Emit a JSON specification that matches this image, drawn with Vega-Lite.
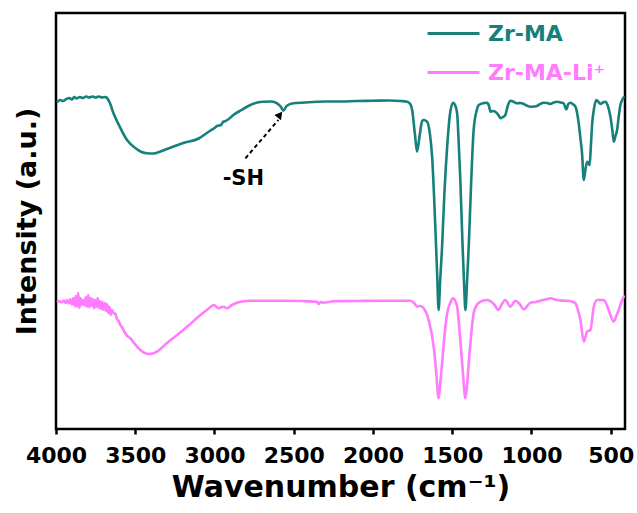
{
  "$schema": "https://vega.github.io/schema/vega-lite/v6.json",
  "width": 569,
  "height": 416,
  "autosize": "none",
  "padding": {"left": 56, "top": 13, "right": 12, "bottom": 84},
  "config": {
    "font": "DejaVu Sans",
    "view": {"stroke": "#000000", "strokeWidth": 2.5},
    "axis": {"grid": false}
  },
  "datasets": {
    "spectra": [
      {"wn": 3994, "intensity": 326.7, "sample": "Zr-MA"},
      {"wn": 3975, "intensity": 329, "sample": "Zr-MA"},
      {"wn": 3955, "intensity": 328, "sample": "Zr-MA"},
      {"wn": 3935, "intensity": 330, "sample": "Zr-MA"},
      {"wn": 3915, "intensity": 331, "sample": "Zr-MA"},
      {"wn": 3900, "intensity": 329.5, "sample": "Zr-MA"},
      {"wn": 3885, "intensity": 332, "sample": "Zr-MA"},
      {"wn": 3870, "intensity": 330.5, "sample": "Zr-MA"},
      {"wn": 3850, "intensity": 332, "sample": "Zr-MA"},
      {"wn": 3830, "intensity": 331, "sample": "Zr-MA"},
      {"wn": 3810, "intensity": 332.5, "sample": "Zr-MA"},
      {"wn": 3790, "intensity": 331.5, "sample": "Zr-MA"},
      {"wn": 3770, "intensity": 332.5, "sample": "Zr-MA"},
      {"wn": 3750, "intensity": 331.5, "sample": "Zr-MA"},
      {"wn": 3730, "intensity": 332.5, "sample": "Zr-MA"},
      {"wn": 3710, "intensity": 331.5, "sample": "Zr-MA"},
      {"wn": 3690, "intensity": 332, "sample": "Zr-MA"},
      {"wn": 3678, "intensity": 331, "sample": "Zr-MA"},
      {"wn": 3660, "intensity": 326, "sample": "Zr-MA"},
      {"wn": 3638, "intensity": 316, "sample": "Zr-MA"},
      {"wn": 3600, "intensity": 303, "sample": "Zr-MA"},
      {"wn": 3552, "intensity": 289, "sample": "Zr-MA"},
      {"wn": 3500, "intensity": 281, "sample": "Zr-MA"},
      {"wn": 3460, "intensity": 277, "sample": "Zr-MA"},
      {"wn": 3426, "intensity": 275.7, "sample": "Zr-MA"},
      {"wn": 3390, "intensity": 275.5, "sample": "Zr-MA"},
      {"wn": 3363, "intensity": 276.3, "sample": "Zr-MA"},
      {"wn": 3300, "intensity": 280, "sample": "Zr-MA"},
      {"wn": 3250, "intensity": 283, "sample": "Zr-MA"},
      {"wn": 3197, "intensity": 286, "sample": "Zr-MA"},
      {"wn": 3100, "intensity": 290.5, "sample": "Zr-MA"},
      {"wn": 3030, "intensity": 298, "sample": "Zr-MA"},
      {"wn": 3000, "intensity": 301, "sample": "Zr-MA"},
      {"wn": 2984, "intensity": 303, "sample": "Zr-MA"},
      {"wn": 2960, "intensity": 304, "sample": "Zr-MA"},
      {"wn": 2944, "intensity": 307.3, "sample": "Zr-MA"},
      {"wn": 2930, "intensity": 308, "sample": "Zr-MA"},
      {"wn": 2910, "intensity": 310, "sample": "Zr-MA"},
      {"wn": 2881, "intensity": 314, "sample": "Zr-MA"},
      {"wn": 2830, "intensity": 319, "sample": "Zr-MA"},
      {"wn": 2774, "intensity": 324, "sample": "Zr-MA"},
      {"wn": 2730, "intensity": 326.5, "sample": "Zr-MA"},
      {"wn": 2692, "intensity": 327.3, "sample": "Zr-MA"},
      {"wn": 2640, "intensity": 327.5, "sample": "Zr-MA"},
      {"wn": 2605, "intensity": 325.7, "sample": "Zr-MA"},
      {"wn": 2580, "intensity": 322, "sample": "Zr-MA"},
      {"wn": 2566, "intensity": 318.3, "sample": "Zr-MA"},
      {"wn": 2545, "intensity": 323, "sample": "Zr-MA"},
      {"wn": 2502, "intensity": 325.7, "sample": "Zr-MA"},
      {"wn": 2430, "intensity": 326.5, "sample": "Zr-MA"},
      {"wn": 2353, "intensity": 327.3, "sample": "Zr-MA"},
      {"wn": 2300, "intensity": 327.5, "sample": "Zr-MA"},
      {"wn": 2200, "intensity": 327.5, "sample": "Zr-MA"},
      {"wn": 2100, "intensity": 328, "sample": "Zr-MA"},
      {"wn": 2000, "intensity": 328.2, "sample": "Zr-MA"},
      {"wn": 1900, "intensity": 328.5, "sample": "Zr-MA"},
      {"wn": 1827, "intensity": 328, "sample": "Zr-MA"},
      {"wn": 1785, "intensity": 327.3, "sample": "Zr-MA"},
      {"wn": 1765, "intensity": 325, "sample": "Zr-MA"},
      {"wn": 1753, "intensity": 319, "sample": "Zr-MA"},
      {"wn": 1735, "intensity": 294, "sample": "Zr-MA"},
      {"wn": 1722, "intensity": 277.3, "sample": "Zr-MA"},
      {"wn": 1705, "intensity": 294, "sample": "Zr-MA"},
      {"wn": 1690, "intensity": 308, "sample": "Zr-MA"},
      {"wn": 1680, "intensity": 309, "sample": "Zr-MA"},
      {"wn": 1659, "intensity": 307.3, "sample": "Zr-MA"},
      {"wn": 1640, "intensity": 294, "sample": "Zr-MA"},
      {"wn": 1627, "intensity": 272.3, "sample": "Zr-MA"},
      {"wn": 1615, "intensity": 234, "sample": "Zr-MA"},
      {"wn": 1606, "intensity": 199, "sample": "Zr-MA"},
      {"wn": 1595, "intensity": 154, "sample": "Zr-MA"},
      {"wn": 1586, "intensity": 119, "sample": "Zr-MA"},
      {"wn": 1576, "intensity": 149, "sample": "Zr-MA"},
      {"wn": 1564, "intensity": 182.3, "sample": "Zr-MA"},
      {"wn": 1550, "intensity": 234, "sample": "Zr-MA"},
      {"wn": 1532, "intensity": 282.3, "sample": "Zr-MA"},
      {"wn": 1515, "intensity": 314, "sample": "Zr-MA"},
      {"wn": 1495, "intensity": 326.3, "sample": "Zr-MA"},
      {"wn": 1480, "intensity": 323, "sample": "Zr-MA"},
      {"wn": 1469, "intensity": 315.7, "sample": "Zr-MA"},
      {"wn": 1460, "intensity": 289, "sample": "Zr-MA"},
      {"wn": 1449, "intensity": 249, "sample": "Zr-MA"},
      {"wn": 1435, "intensity": 184, "sample": "Zr-MA"},
      {"wn": 1425, "intensity": 144, "sample": "Zr-MA"},
      {"wn": 1417, "intensity": 119, "sample": "Zr-MA"},
      {"wn": 1406, "intensity": 149, "sample": "Zr-MA"},
      {"wn": 1396, "intensity": 182.3, "sample": "Zr-MA"},
      {"wn": 1380, "intensity": 249, "sample": "Zr-MA"},
      {"wn": 1365, "intensity": 299, "sample": "Zr-MA"},
      {"wn": 1345, "intensity": 319, "sample": "Zr-MA"},
      {"wn": 1333, "intensity": 324, "sample": "Zr-MA"},
      {"wn": 1300, "intensity": 326, "sample": "Zr-MA"},
      {"wn": 1280, "intensity": 326.3, "sample": "Zr-MA"},
      {"wn": 1268, "intensity": 323, "sample": "Zr-MA"},
      {"wn": 1259, "intensity": 317.3, "sample": "Zr-MA"},
      {"wn": 1240, "intensity": 318, "sample": "Zr-MA"},
      {"wn": 1217, "intensity": 315.7, "sample": "Zr-MA"},
      {"wn": 1205, "intensity": 313, "sample": "Zr-MA"},
      {"wn": 1196, "intensity": 310.7, "sample": "Zr-MA"},
      {"wn": 1180, "intensity": 312, "sample": "Zr-MA"},
      {"wn": 1165, "intensity": 314, "sample": "Zr-MA"},
      {"wn": 1150, "intensity": 323, "sample": "Zr-MA"},
      {"wn": 1133, "intensity": 328.3, "sample": "Zr-MA"},
      {"wn": 1110, "intensity": 327, "sample": "Zr-MA"},
      {"wn": 1091, "intensity": 325.7, "sample": "Zr-MA"},
      {"wn": 1070, "intensity": 326, "sample": "Zr-MA"},
      {"wn": 1049, "intensity": 325, "sample": "Zr-MA"},
      {"wn": 1030, "intensity": 323.5, "sample": "Zr-MA"},
      {"wn": 1007, "intensity": 322.3, "sample": "Zr-MA"},
      {"wn": 985, "intensity": 322.5, "sample": "Zr-MA"},
      {"wn": 965, "intensity": 323, "sample": "Zr-MA"},
      {"wn": 945, "intensity": 325, "sample": "Zr-MA"},
      {"wn": 923, "intensity": 326.3, "sample": "Zr-MA"},
      {"wn": 900, "intensity": 326, "sample": "Zr-MA"},
      {"wn": 881, "intensity": 325, "sample": "Zr-MA"},
      {"wn": 860, "intensity": 326.5, "sample": "Zr-MA"},
      {"wn": 838, "intensity": 327.3, "sample": "Zr-MA"},
      {"wn": 815, "intensity": 326.5, "sample": "Zr-MA"},
      {"wn": 797, "intensity": 325.7, "sample": "Zr-MA"},
      {"wn": 780, "intensity": 319.7, "sample": "Zr-MA"},
      {"wn": 768, "intensity": 325, "sample": "Zr-MA"},
      {"wn": 754, "intensity": 326.3, "sample": "Zr-MA"},
      {"wn": 740, "intensity": 325, "sample": "Zr-MA"},
      {"wn": 723, "intensity": 322.3, "sample": "Zr-MA"},
      {"wn": 712, "intensity": 316, "sample": "Zr-MA"},
      {"wn": 702, "intensity": 305.7, "sample": "Zr-MA"},
      {"wn": 690, "intensity": 289, "sample": "Zr-MA"},
      {"wn": 681, "intensity": 275.7, "sample": "Zr-MA"},
      {"wn": 670, "intensity": 249, "sample": "Zr-MA"},
      {"wn": 660, "intensity": 259, "sample": "Zr-MA"},
      {"wn": 649, "intensity": 267.3, "sample": "Zr-MA"},
      {"wn": 641, "intensity": 266, "sample": "Zr-MA"},
      {"wn": 633, "intensity": 264, "sample": "Zr-MA"},
      {"wn": 625, "intensity": 284, "sample": "Zr-MA"},
      {"wn": 617, "intensity": 305.7, "sample": "Zr-MA"},
      {"wn": 605, "intensity": 321, "sample": "Zr-MA"},
      {"wn": 590, "intensity": 329, "sample": "Zr-MA"},
      {"wn": 577, "intensity": 327, "sample": "Zr-MA"},
      {"wn": 565, "intensity": 325, "sample": "Zr-MA"},
      {"wn": 550, "intensity": 326.5, "sample": "Zr-MA"},
      {"wn": 533, "intensity": 327.3, "sample": "Zr-MA"},
      {"wn": 518, "intensity": 323, "sample": "Zr-MA"},
      {"wn": 502, "intensity": 312.3, "sample": "Zr-MA"},
      {"wn": 490, "intensity": 299, "sample": "Zr-MA"},
      {"wn": 481, "intensity": 287.3, "sample": "Zr-MA"},
      {"wn": 470, "intensity": 293, "sample": "Zr-MA"},
      {"wn": 460, "intensity": 299, "sample": "Zr-MA"},
      {"wn": 450, "intensity": 312, "sample": "Zr-MA"},
      {"wn": 439, "intensity": 324, "sample": "Zr-MA"},
      {"wn": 428, "intensity": 329, "sample": "Zr-MA"},
      {"wn": 418, "intensity": 331.7, "sample": "Zr-MA"},
      {"wn": 412, "intensity": 332, "sample": "Zr-MA"},

      {"wn": 3994, "intensity": 127, "sample": "Zr-MA-Li⁺"},
      {"wn": 3980, "intensity": 128, "sample": "Zr-MA-Li⁺"},
      {"wn": 3965, "intensity": 126.5, "sample": "Zr-MA-Li⁺"},
      {"wn": 3950, "intensity": 128.5, "sample": "Zr-MA-Li⁺"},
      {"wn": 3940, "intensity": 126, "sample": "Zr-MA-Li⁺"},
      {"wn": 3930, "intensity": 129, "sample": "Zr-MA-Li⁺"},
      {"wn": 3920, "intensity": 125.5, "sample": "Zr-MA-Li⁺"},
      {"wn": 3910, "intensity": 130, "sample": "Zr-MA-Li⁺"},
      {"wn": 3900, "intensity": 124.5, "sample": "Zr-MA-Li⁺"},
      {"wn": 3890, "intensity": 131, "sample": "Zr-MA-Li⁺"},
      {"wn": 3882, "intensity": 123, "sample": "Zr-MA-Li⁺"},
      {"wn": 3875, "intensity": 133, "sample": "Zr-MA-Li⁺"},
      {"wn": 3868, "intensity": 122, "sample": "Zr-MA-Li⁺"},
      {"wn": 3860, "intensity": 136, "sample": "Zr-MA-Li⁺"},
      {"wn": 3852, "intensity": 121, "sample": "Zr-MA-Li⁺"},
      {"wn": 3845, "intensity": 131, "sample": "Zr-MA-Li⁺"},
      {"wn": 3838, "intensity": 124, "sample": "Zr-MA-Li⁺"},
      {"wn": 3830, "intensity": 129, "sample": "Zr-MA-Li⁺"},
      {"wn": 3820, "intensity": 123.5, "sample": "Zr-MA-Li⁺"},
      {"wn": 3812, "intensity": 132, "sample": "Zr-MA-Li⁺"},
      {"wn": 3805, "intensity": 122, "sample": "Zr-MA-Li⁺"},
      {"wn": 3797, "intensity": 134, "sample": "Zr-MA-Li⁺"},
      {"wn": 3790, "intensity": 121.5, "sample": "Zr-MA-Li⁺"},
      {"wn": 3782, "intensity": 131, "sample": "Zr-MA-Li⁺"},
      {"wn": 3775, "intensity": 123, "sample": "Zr-MA-Li⁺"},
      {"wn": 3767, "intensity": 130, "sample": "Zr-MA-Li⁺"},
      {"wn": 3760, "intensity": 120.5, "sample": "Zr-MA-Li⁺"},
      {"wn": 3752, "intensity": 129, "sample": "Zr-MA-Li⁺"},
      {"wn": 3745, "intensity": 122, "sample": "Zr-MA-Li⁺"},
      {"wn": 3737, "intensity": 131, "sample": "Zr-MA-Li⁺"},
      {"wn": 3730, "intensity": 121, "sample": "Zr-MA-Li⁺"},
      {"wn": 3722, "intensity": 128, "sample": "Zr-MA-Li⁺"},
      {"wn": 3715, "intensity": 120, "sample": "Zr-MA-Li⁺"},
      {"wn": 3707, "intensity": 127, "sample": "Zr-MA-Li⁺"},
      {"wn": 3700, "intensity": 119, "sample": "Zr-MA-Li⁺"},
      {"wn": 3692, "intensity": 126, "sample": "Zr-MA-Li⁺"},
      {"wn": 3685, "intensity": 118, "sample": "Zr-MA-Li⁺"},
      {"wn": 3677, "intensity": 125, "sample": "Zr-MA-Li⁺"},
      {"wn": 3670, "intensity": 116, "sample": "Zr-MA-Li⁺"},
      {"wn": 3662, "intensity": 122, "sample": "Zr-MA-Li⁺"},
      {"wn": 3655, "intensity": 114, "sample": "Zr-MA-Li⁺"},
      {"wn": 3647, "intensity": 119, "sample": "Zr-MA-Li⁺"},
      {"wn": 3637, "intensity": 116, "sample": "Zr-MA-Li⁺"},
      {"wn": 3625, "intensity": 115, "sample": "Zr-MA-Li⁺"},
      {"wn": 3615, "intensity": 110, "sample": "Zr-MA-Li⁺"},
      {"wn": 3605, "intensity": 108, "sample": "Zr-MA-Li⁺"},
      {"wn": 3594, "intensity": 104, "sample": "Zr-MA-Li⁺"},
      {"wn": 3580, "intensity": 101, "sample": "Zr-MA-Li⁺"},
      {"wn": 3565, "intensity": 96, "sample": "Zr-MA-Li⁺"},
      {"wn": 3550, "intensity": 93, "sample": "Zr-MA-Li⁺"},
      {"wn": 3531, "intensity": 90.7, "sample": "Zr-MA-Li⁺"},
      {"wn": 3500, "intensity": 84.5, "sample": "Zr-MA-Li⁺"},
      {"wn": 3468, "intensity": 79, "sample": "Zr-MA-Li⁺"},
      {"wn": 3440, "intensity": 76, "sample": "Zr-MA-Li⁺"},
      {"wn": 3416, "intensity": 75, "sample": "Zr-MA-Li⁺"},
      {"wn": 3390, "intensity": 75.5, "sample": "Zr-MA-Li⁺"},
      {"wn": 3363, "intensity": 77.3, "sample": "Zr-MA-Li⁺"},
      {"wn": 3300, "intensity": 86, "sample": "Zr-MA-Li⁺"},
      {"wn": 3236, "intensity": 94, "sample": "Zr-MA-Li⁺"},
      {"wn": 3160, "intensity": 104, "sample": "Zr-MA-Li⁺"},
      {"wn": 3089, "intensity": 114, "sample": "Zr-MA-Li⁺"},
      {"wn": 3040, "intensity": 120, "sample": "Zr-MA-Li⁺"},
      {"wn": 3005, "intensity": 124, "sample": "Zr-MA-Li⁺"},
      {"wn": 2990, "intensity": 122.5, "sample": "Zr-MA-Li⁺"},
      {"wn": 2974, "intensity": 120.7, "sample": "Zr-MA-Li⁺"},
      {"wn": 2955, "intensity": 122, "sample": "Zr-MA-Li⁺"},
      {"wn": 2942, "intensity": 122.3, "sample": "Zr-MA-Li⁺"},
      {"wn": 2921, "intensity": 120.7, "sample": "Zr-MA-Li⁺"},
      {"wn": 2890, "intensity": 124, "sample": "Zr-MA-Li⁺"},
      {"wn": 2858, "intensity": 126.3, "sample": "Zr-MA-Li⁺"},
      {"wn": 2800, "intensity": 128, "sample": "Zr-MA-Li⁺"},
      {"wn": 2774, "intensity": 128.3, "sample": "Zr-MA-Li⁺"},
      {"wn": 2700, "intensity": 128.3, "sample": "Zr-MA-Li⁺"},
      {"wn": 2564, "intensity": 128.3, "sample": "Zr-MA-Li⁺"},
      {"wn": 2450, "intensity": 128, "sample": "Zr-MA-Li⁺"},
      {"wn": 2353, "intensity": 127.3, "sample": "Zr-MA-Li⁺"},
      {"wn": 2343, "intensity": 125, "sample": "Zr-MA-Li⁺"},
      {"wn": 2330, "intensity": 127, "sample": "Zr-MA-Li⁺"},
      {"wn": 2311, "intensity": 126.3, "sample": "Zr-MA-Li⁺"},
      {"wn": 2250, "intensity": 127.8, "sample": "Zr-MA-Li⁺"},
      {"wn": 2100, "intensity": 128, "sample": "Zr-MA-Li⁺"},
      {"wn": 1950, "intensity": 128.3, "sample": "Zr-MA-Li⁺"},
      {"wn": 1890, "intensity": 128.3, "sample": "Zr-MA-Li⁺"},
      {"wn": 1764, "intensity": 128.3, "sample": "Zr-MA-Li⁺"},
      {"wn": 1740, "intensity": 126, "sample": "Zr-MA-Li⁺"},
      {"wn": 1722, "intensity": 122.3, "sample": "Zr-MA-Li⁺"},
      {"wn": 1700, "intensity": 123, "sample": "Zr-MA-Li⁺"},
      {"wn": 1680, "intensity": 120.7, "sample": "Zr-MA-Li⁺"},
      {"wn": 1649, "intensity": 109, "sample": "Zr-MA-Li⁺"},
      {"wn": 1617, "intensity": 82.3, "sample": "Zr-MA-Li⁺"},
      {"wn": 1600, "intensity": 55, "sample": "Zr-MA-Li⁺"},
      {"wn": 1586, "intensity": 30.7, "sample": "Zr-MA-Li⁺"},
      {"wn": 1576, "intensity": 45, "sample": "Zr-MA-Li⁺"},
      {"wn": 1564, "intensity": 65.7, "sample": "Zr-MA-Li⁺"},
      {"wn": 1548, "intensity": 95, "sample": "Zr-MA-Li⁺"},
      {"wn": 1532, "intensity": 115.7, "sample": "Zr-MA-Li⁺"},
      {"wn": 1510, "intensity": 127, "sample": "Zr-MA-Li⁺"},
      {"wn": 1495, "intensity": 130.7, "sample": "Zr-MA-Li⁺"},
      {"wn": 1480, "intensity": 128, "sample": "Zr-MA-Li⁺"},
      {"wn": 1469, "intensity": 122.3, "sample": "Zr-MA-Li⁺"},
      {"wn": 1449, "intensity": 89, "sample": "Zr-MA-Li⁺"},
      {"wn": 1432, "intensity": 55, "sample": "Zr-MA-Li⁺"},
      {"wn": 1417, "intensity": 30.7, "sample": "Zr-MA-Li⁺"},
      {"wn": 1406, "intensity": 45, "sample": "Zr-MA-Li⁺"},
      {"wn": 1396, "intensity": 65.7, "sample": "Zr-MA-Li⁺"},
      {"wn": 1380, "intensity": 95, "sample": "Zr-MA-Li⁺"},
      {"wn": 1365, "intensity": 115.7, "sample": "Zr-MA-Li⁺"},
      {"wn": 1345, "intensity": 124, "sample": "Zr-MA-Li⁺"},
      {"wn": 1322, "intensity": 127.3, "sample": "Zr-MA-Li⁺"},
      {"wn": 1280, "intensity": 129, "sample": "Zr-MA-Li⁺"},
      {"wn": 1238, "intensity": 125, "sample": "Zr-MA-Li⁺"},
      {"wn": 1207, "intensity": 119, "sample": "Zr-MA-Li⁺"},
      {"wn": 1190, "intensity": 124, "sample": "Zr-MA-Li⁺"},
      {"wn": 1165, "intensity": 129, "sample": "Zr-MA-Li⁺"},
      {"wn": 1133, "intensity": 122.3, "sample": "Zr-MA-Li⁺"},
      {"wn": 1101, "intensity": 128.3, "sample": "Zr-MA-Li⁺"},
      {"wn": 1075, "intensity": 125, "sample": "Zr-MA-Li⁺"},
      {"wn": 1049, "intensity": 119.7, "sample": "Zr-MA-Li⁺"},
      {"wn": 1007, "intensity": 126.3, "sample": "Zr-MA-Li⁺"},
      {"wn": 975, "intensity": 127, "sample": "Zr-MA-Li⁺"},
      {"wn": 944, "intensity": 128.3, "sample": "Zr-MA-Li⁺"},
      {"wn": 910, "intensity": 129.5, "sample": "Zr-MA-Li⁺"},
      {"wn": 881, "intensity": 130.7, "sample": "Zr-MA-Li⁺"},
      {"wn": 840, "intensity": 129, "sample": "Zr-MA-Li⁺"},
      {"wn": 797, "intensity": 128.3, "sample": "Zr-MA-Li⁺"},
      {"wn": 760, "intensity": 128, "sample": "Zr-MA-Li⁺"},
      {"wn": 723, "intensity": 125.7, "sample": "Zr-MA-Li⁺"},
      {"wn": 705, "intensity": 118, "sample": "Zr-MA-Li⁺"},
      {"wn": 691, "intensity": 109, "sample": "Zr-MA-Li⁺"},
      {"wn": 670, "intensity": 87.3, "sample": "Zr-MA-Li⁺"},
      {"wn": 649, "intensity": 97.3, "sample": "Zr-MA-Li⁺"},
      {"wn": 628, "intensity": 99, "sample": "Zr-MA-Li⁺"},
      {"wn": 607, "intensity": 122.3, "sample": "Zr-MA-Li⁺"},
      {"wn": 586, "intensity": 129, "sample": "Zr-MA-Li⁺"},
      {"wn": 544, "intensity": 129, "sample": "Zr-MA-Li⁺"},
      {"wn": 530, "intensity": 126, "sample": "Zr-MA-Li⁺"},
      {"wn": 513, "intensity": 119, "sample": "Zr-MA-Li⁺"},
      {"wn": 481, "intensity": 107.3, "sample": "Zr-MA-Li⁺"},
      {"wn": 465, "intensity": 113, "sample": "Zr-MA-Li⁺"},
      {"wn": 450, "intensity": 119, "sample": "Zr-MA-Li⁺"},
      {"wn": 430, "intensity": 128, "sample": "Zr-MA-Li⁺"},
      {"wn": 418, "intensity": 132.3, "sample": "Zr-MA-Li⁺"},
      {"wn": 412, "intensity": 133, "sample": "Zr-MA-Li⁺"}
    ],
    "arrow": [
      {"wn": 2805, "intensity": 270.7, "wn_end": 2597, "intensity_end": 309}
    ],
    "arrow_head": [
      {"wn": 2587, "intensity": 314.3}
    ],
    "peak_label": [
      {"wn": 2818, "intensity": 244, "label": "-SH"}
    ]
  },
  "layer": [
    {
      "data": {"name": "spectra"},
      "mark": {"type": "line", "strokeWidth": 2.6, "interpolate": "monotone"},
      "encoding": {
        "x": {
          "field": "wn",
          "type": "quantitative",
          "scale": {"domain": [410, 4000], "reverse": true, "nice": false, "zero": false},
          "axis": {
            "title": "Wavenumber (cm⁻¹)",
            "values": [4000, 3500, 3000, 2500, 2000, 1500, 1000, 500],
            "format": "d",
            "domain": false,
            "tickColor": "#000000",
            "tickWidth": 2.5,
            "tickSize": 5,
            "labelFont": "DejaVu Sans",
            "labelFontWeight": "bold",
            "labelFontSize": 22,
            "labelColor": "#000000",
            "labelPadding": 11,
            "labelFlush": false,
            "titleFont": "DejaVu Sans",
            "titleFontWeight": "bold",
            "titleFontSize": 30,
            "titleColor": "#000000",
            "titlePadding": 6
          }
        },
        "y": {
          "field": "intensity",
          "type": "quantitative",
          "scale": {"domain": [0, 416], "nice": false},
          "axis": {
            "title": "Intensity (a.u.)",
            "labels": false,
            "ticks": false,
            "domain": false,
            "minExtent": 0,
            "titleFont": "DejaVu Sans",
            "titleFontWeight": "bold",
            "titleFontSize": 27,
            "titleColor": "#000000",
            "titlePadding": 15
          }
        },
        "color": {
          "field": "sample",
          "type": "nominal",
          "scale": {"domain": ["Zr-MA", "Zr-MA-Li⁺"], "range": ["#16807a", "#ff7cff"]},
          "legend": {
            "orient": "none",
            "legendX": 370,
            "legendY": -7,
            "title": null,
            "padding": 0,
            "symbolType": "stroke",
            "symbolSize": 2700,
            "symbolStrokeWidth": 3,
            "labelFont": "DejaVu Sans",
            "labelFontWeight": "bold",
            "labelFontSize": 22,
            "labelOffset": 7,
            "rowPadding": -18,
            "encode": {
              "labels": {"update": {"fill": {"scale": "color", "field": "value"}}}
            }
          }
        },
        "order": {"field": "wn", "sort": "descending"}
      }
    },
    {
      "data": {"name": "arrow"},
      "mark": {"type": "rule", "strokeDash": [4, 3], "strokeWidth": 2, "color": "#000000"},
      "encoding": {
        "x": {"field": "wn", "type": "quantitative"},
        "y": {"field": "intensity", "type": "quantitative"},
        "x2": {"field": "wn_end"},
        "y2": {"field": "intensity_end"}
      }
    },
    {
      "data": {"name": "arrow_head"},
      "mark": {"type": "point", "shape": "triangle-up", "angle": 38, "filled": true, "size": 70, "color": "#000000", "opacity": 1},
      "encoding": {
        "x": {"field": "wn", "type": "quantitative"},
        "y": {"field": "intensity", "type": "quantitative"}
      }
    },
    {
      "data": {"name": "peak_label"},
      "mark": {"type": "text", "font": "DejaVu Sans", "fontWeight": "bold", "fontSize": 21, "align": "center", "baseline": "alphabetic", "color": "#000000"},
      "encoding": {
        "x": {"field": "wn", "type": "quantitative"},
        "y": {"field": "intensity", "type": "quantitative"},
        "text": {"field": "label"}
      }
    }
  ]
}
